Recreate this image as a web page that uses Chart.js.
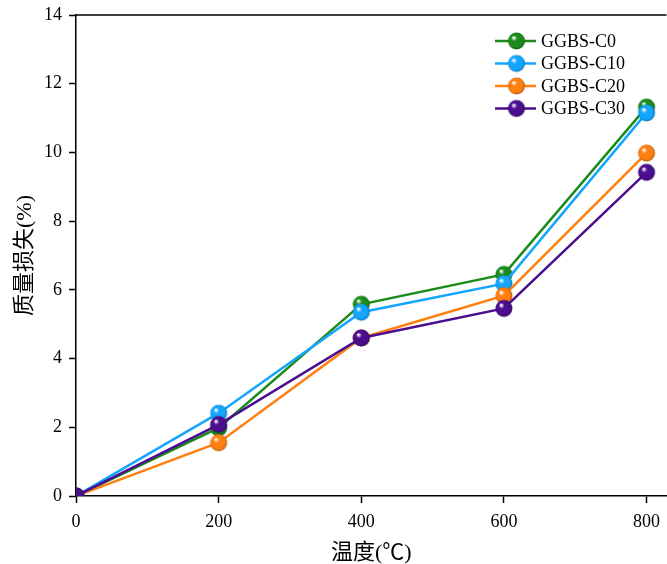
<!DOCTYPE html>
<html>
<head>
<meta charset="utf-8">
<script src="https://cdn.jsdelivr.net/npm/chart.js@4/dist/chart.umd.min.js"></script>
<style>
  body { margin: 0; background: #fff; overflow: hidden; }
  #clip { width: 667px; height: 564px; overflow: hidden; }
  #wrap { width: 677px; height: 564px; }
</style>
</head>
<body>
<div id="clip"><div id="wrap"><canvas id="chart"></canvas></div></div>
<script>
const temps = [0, 200, 400, 600, 800];
const xTicks = [0, 200, 400, 600, 800];
const seriesNames = ['GGBS-C0', 'GGBS-C10', 'GGBS-C20', 'GGBS-C30'];
const lossC0 = [0, 1.98, 5.58, 6.45, 11.32];
const lossC10 = [0, 2.41, 5.35, 6.18, 11.15];
const lossC20 = [0, 1.55, 4.6, 5.83, 9.98];
const lossC30 = [0, 2.08, 4.6, 5.46, 9.42];
const colors = ['#1b8c1b', '#14a6ff', '#ff7f10', '#4a0e8f'];

const serif = '"Liberation Serif", "Times New Roman", "Noto Sans CJK SC", serif';

// shaded ball used as point marker
function ball(color) {
  const c = document.createElement('canvas');
  c.width = 20; c.height = 20;
  const g = c.getContext('2d');
  const grad = g.createRadialGradient(7, 6.5, 0.5, 10, 10, 9);
  grad.addColorStop(0, '#ffffff');
  grad.addColorStop(0.28, color);
  grad.addColorStop(0.75, color);
  grad.addColorStop(1, shade(color, 0.65));
  g.fillStyle = grad;
  g.beginPath();
  g.arc(10, 10, 8.5, 0, Math.PI * 2);
  g.fill();
  return c;
}

function shade(hex, f) {
  const n = parseInt(hex.slice(1), 16);
  const r = Math.round(((n >> 16) & 255) * f);
  const gg = Math.round(((n >> 8) & 255) * f);
  const b = Math.round((n & 255) * f);
  return `rgb(${r},${gg},${b})`;
}

const balls = colors.map(ball);
const allLoss = [lossC0, lossC10, lossC20, lossC30];

const datasets = allLoss.map((vals, i) => ({
  label: seriesNames[i],
  data: temps.map((t, j) => ({ x: t, y: vals[j] })),
  borderColor: colors[i],
  backgroundColor: colors[i],
  borderWidth: 2.5,
  pointStyle: balls[i],
  pointRadius: 8,
  clip: 0,
  order: 4 - i, // last series on top
}));

const frameAndLegend = {
  id: 'frameAndLegend',
  beforeDatasetsDraw(chart) {
    const { ctx, chartArea: a } = chart;
    ctx.save();
    ctx.beginPath();
    ctx.rect(a.left, a.top, a.right - a.left, a.bottom - a.top);
    ctx.clip();
  },
  afterDatasetsDraw(chart) {
    chart.ctx.restore();
  },
  afterDraw(chart) {
    const { ctx, chartArea } = chart;
    ctx.save();
    ctx.strokeStyle = '#000';
    ctx.lineWidth = 1.5;
    ctx.beginPath();
    ctx.moveTo(chartArea.left, chartArea.top);
    ctx.lineTo(chartArea.right, chartArea.top);
    ctx.stroke();

    ctx.font = '18px ' + serif;
    ctx.textBaseline = 'middle';
    ctx.fillStyle = '#000';
    seriesNames.forEach((name, i) => {
      const y = 41 + i * 22.5;
      ctx.strokeStyle = colors[i];
      ctx.lineWidth = 2.5;
      ctx.beginPath();
      ctx.moveTo(495, y);
      ctx.lineTo(536, y);
      ctx.stroke();
      ctx.drawImage(balls[i], 516.5 - 10, y - 10);
      ctx.fillText(name, 541, y + 1);
    });
    ctx.restore();
  }
};

new Chart(document.getElementById('chart'), {
  type: 'line',
  data: { datasets },
  plugins: [frameAndLegend],
  options: {
    responsive: true,
    maintainAspectRatio: false,
    animation: false,
    layout: { padding: { top: 15, right: 0, left: 0, bottom: 0 } },
    plugins: { legend: { display: false }, tooltip: { enabled: false } },
    scales: {
      x: {
        type: 'linear',
        min: 0,
        max: 828,
        afterBuildTicks: (axis) => { axis.ticks = xTicks.map(v => ({ value: v })); },
        afterFit: (axis) => { axis.height = 68; axis.paddingLeft = 0; axis.paddingRight = 0; },
        grid: { drawOnChartArea: false, drawTicks: true, tickLength: 7, tickWidth: 1.5, color: '#000' },
        border: { color: '#000', width: 1.5 },
        ticks: { color: '#000', font: { family: serif, size: 18 }, padding: 8, maxRotation: 0 },
        title: { display: true, text: '温度(℃)', color: '#000', font: { family: serif, size: 22 }, padding: { top: 0, bottom: -2 } },
      },
      y: {
        min: 0,
        max: 14,
        ticks: { stepSize: 2, color: '#000', font: { family: serif, size: 18 }, padding: 7 },
        afterFit: (axis) => { axis.width = 76; axis.paddingTop = 0; axis.paddingBottom = 0; },
        grid: { drawOnChartArea: false, drawTicks: true, tickLength: 7, tickWidth: 1.5, color: '#000' },
        border: { color: '#000', width: 1.5 },
        title: { display: true, text: '质量损失(%)', color: '#000', font: { family: serif, size: 22 }, padding: { top: 12, bottom: 0 } },
      },
    },
  },
});
</script>
</body>
</html>
